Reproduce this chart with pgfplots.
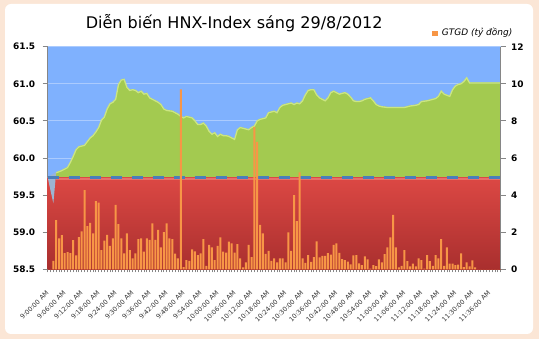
\documentclass[border=0pt]{standalone}
\usepackage{fontspec}
\setmainfont{DejaVu Sans}
\usepackage{pgfplots}
\usepackage{pgfplotstable}
\pgfplotsset{compat=1.18}
\definecolor{peach}{HTML}{FBE6D6}
\definecolor{plotblue}{HTML}{7FB1FE}
\definecolor{notchblue}{HTML}{9CB4D2}
\definecolor{gridblue}{HTML}{ABCBFE}
\definecolor{greenfill}{HTML}{A3CA50}
\definecolor{greenhi}{HTML}{CBE583}
\definecolor{redtop}{HTML}{DC4844}
\definecolor{redbot}{HTML}{A92F2E}
\definecolor{redhi}{HTML}{E8706A}
\definecolor{refblue}{HTML}{4A7EBB}
\definecolor{barorange}{HTML}{F79646}
\definecolor{axisgrey}{HTML}{868686}

\pgfplotstableread{
x y
0 59.74
1 59.56
2 59.39
3 59.81
5 59.84
6 59.86
7 59.88
8 59.95
9 60.03
10 60.12
11 60.16
12 60.17
13 60.18
14 60.23
15 60.28
16 60.31
17 60.36
18 60.42
19 60.52
20 60.56
21 60.67
22 60.74
23 60.76
24 60.80
25 61.00
26 61.06
27 61.07
28 60.96
29 60.92
30 60.93
31 60.92
32 60.89
33 60.91
34 60.87
35 60.88
36 60.82
37 60.80
38 60.78
39 60.76
40 60.73
41 60.67
42 60.65
44 60.64
45 60.62
46 60.60
47 60.57
48 60.55
49 60.57
50 60.56
51 60.55
52 60.51
53 60.46
54 60.46
55 60.48
56 60.44
57 60.37
58 60.33
59 60.35
60 60.30
61 60.33
62 60.31
63 60.31
64 60.30
65 60.28
66 60.26
67 60.39
68 60.42
69 60.41
70 60.40
71 60.39
72 60.42
73 60.44
74 60.51
75 60.53
76 60.54
77 60.55
78 60.62
79 60.63
80 60.64
81 60.62
82 60.69
83 60.72
84 60.73
85 60.74
86 60.75
87 60.73
88 60.75
89 60.74
90 60.78
91 60.86
92 60.92
93 60.93
94 60.93
95 60.86
96 60.82
97 60.80
98 60.78
99 60.82
100 60.89
101 60.91
102 60.89
103 60.87
104 60.88
105 60.89
106 60.87
107 60.83
108 60.78
109 60.77
110 60.77
111 60.78
112 60.80
113 60.81
114 60.82
115 60.78
116 60.73
117 60.71
118 60.70
120 60.69
126 60.69
128 60.71
130 60.72
131 60.73
132 60.77
134 60.78
136 60.80
137 60.81
138 60.84
139 60.91
140 60.87
142 60.84
143 60.93
144 60.98
145 61.00
146 61.01
147 61.04
148 61.09
149 61.02
160 61.02
}\indexdata

\pgfplotstableread{
x v
0 0
1 0
2 0.45
3 2.65
4 1.67
5 1.84
6 0.87
7 0.93
8 0.87
9 1.57
10 0.75
11 1.73
12 2.05
13 4.27
14 2.33
15 2.50
16 1.94
17 3.68
18 3.60
19 1.04
20 1.54
21 1.85
22 1.26
23 1.67
24 3.47
25 2.44
26 1.67
27 0.86
28 1.94
29 1.04
30 0.59
31 0.86
32 1.62
33 1.67
34 0.95
35 1.67
36 1.58
37 2.48
38 1.58
39 2.12
40 1.18
41 2.01
42 2.48
43 1.67
44 1.62
45 0.84
46 0.59
47 9.70
48 0.12
49 0.50
50 0.45
51 1.08
52 0.96
53 0.77
54 0.86
55 1.62
56 0.18
57 1.31
58 1.18
59 0.50
60 1.26
61 1.72
62 0.95
63 0.90
64 1.49
65 1.40
66 0.90
67 1.36
68 0.59
69 0.11
70 0.38
71 1.31
72 0.65
73 7.68
74 6.87
75 2.39
76 1.94
77 0.83
78 0.99
79 0.45
80 0.59
81 0.38
82 0.59
83 0.59
84 0.38
85 1.99
86 0.99
87 4.00
88 2.60
89 5.22
90 0.59
91 0.34
92 0.76
93 0.40
94 0.65
95 1.51
96 0.64
97 0.72
98 0.72
99 0.87
100 0.79
101 1.31
102 1.40
103 0.88
104 0.55
105 0.50
106 0.41
107 0.26
108 0.75
109 0.76
110 0.32
111 0.23
112 0.70
113 0.54
114 0.03
115 0.23
116 0.17
117 0.54
118 0.38
119 0.82
120 1.18
121 1.72
122 2.93
123 1.18
124 0.10
125 0.18
126 1.04
127 0.44
128 0.16
129 0.30
130 0.16
131 0.59
132 0.50
133 0.04
134 0.76
135 0.44
136 0.18
137 0.76
138 0.59
139 1.62
140 0.18
141 1.18
142 0.30
143 0.30
144 0.22
145 0.25
146 0.86
147 0.12
148 0.38
149 0.16
150 0.48
151 0.10
152 0
153 0
154 0
155 0
156 0
157 0
158 0
159 0
160 0
}\bardata

\begin{document}
\begin{tikzpicture}
\fill[peach] (0,0) rectangle (539bp,339bp);
\fill[white, rounded corners=6bp] (5bp,5bp) rectangle (533bp,335bp);

\begin{axis}[
  scale only axis, width=453bp, height=222.6bp,
  at={(47.7bp,69.7bp)}, anchor=south west,
  xmin=0, xmax=160, ymin=58.5, ymax=61.5,
  axis background/.style={fill=plotblue},
  axis x line*=bottom, axis y line*=left,
  axis line style={axisgrey, line width=0.8bp},
  tick style={axisgrey, line width=0.8bp},
  tick align=outside,
  major tick length=5bp, minor tick length=3bp,
  xtick={0,6,...,156},
  xticklabels={9:00:00 AM,9:06:00 AM,9:12:00 AM,9:18:00 AM,9:24:00 AM,9:30:00 AM,9:36:00 AM,9:42:00 AM,9:48:00 AM,9:54:00 AM,10:00:00 AM,10:06:00 AM,10:12:00 AM,10:18:00 AM,10:24:00 AM,10:30:00 AM,10:36:00 AM,10:42:00 AM,10:48:00 AM,10:54:00 AM,11:00:00 AM,11:06:00 AM,11:12:00 AM,11:18:00 AM,11:24:00 AM,11:30:00 AM,11:36:00 AM},
  minor xtick={0,1,...,160},
  major x tick style={draw=none},
  ytick={58.5,59,59.5,60,60.5,61,61.5},
  ymajorgrids, grid style={gridblue, line width=0.8bp},
  yticklabel style={font=\bfseries\fontsize{9}{10}\selectfont, text=black, xshift=-4bp},
  /pgf/number format/fixed, /pgf/number format/fixed zerofill,
  /pgf/number format/precision=1, /pgf/number format/assume math mode=true,
  xticklabel style={font=\fontsize{6.5}{7}\selectfont, yshift=-11bp, xshift=-2bp, rotate=45, anchor=north east, text=black!80},
]
% green: area under the index (only the part above the reference stays visible)
\addplot[fill=greenfill, draw=none] table[x=x,y=y]{\indexdata} \closedcycle;
% red: band up to the reference level
\addplot[top color=redtop, bottom color=redbot, draw=none] coordinates {(0,58.5) (0,59.74) (160,59.74) (160,58.5)} -- cycle;
% notch where the index was below the reference
\addplot[fill=notchblue, draw=none] coordinates {(0,59.74) (1,59.56) (2,59.39) (3,59.81)} -- cycle;
\addplot[redhi, line width=2.5bp] coordinates {(2.9,59.715) (160,59.715)};
\addplot[greenhi, line width=1.3bp, yshift=-0.7bp, restrict y to domain=59.75:62, unbounded coords=jump] table[x=x,y=y]{\indexdata};
\addplot[refblue, line width=2.5bp, dash pattern=on 11bp off 10bp] coordinates {(0,59.74) (160,59.74)};
\end{axis}

\begin{axis}[
  scale only axis, width=453bp, height=222.6bp,
  at={(47.7bp,69.7bp)}, anchor=south west,
  xmin=0, xmax=160, ymin=0, ymax=12,
  axis x line=none, axis y line*=right,
  axis line style={axisgrey, line width=0.8bp},
  tick style={axisgrey, line width=0.8bp},
  tick align=outside, major tick length=5bp,
  ytick={0,2,...,12},
  yticklabel style={font=\bfseries\fontsize{9}{10}\selectfont, text=black, xshift=2bp},
  /pgf/number format/assume math mode=true,
  ybar, bar width=2bp,
]
\addplot[fill=barorange, draw=none] table[x=x,y=v]{\bardata};
\end{axis}

\node[anchor=base, font=\fontsize{16.1}{18}\selectfont, inner sep=0] at (234.2bp,310.7bp) {Diễn biến HNX-Index sáng 29/8/2012};
\fill[barorange] (432bp,303.3bp) rectangle (437.5bp,308.3bp);
\node[anchor=base west, font=\itshape\fontsize{9}{10}\selectfont, inner sep=0] at (441.7bp,303.7bp) {GTGD (tỷ đồng)};

\pgfresetboundingbox
\path (0,0) rectangle (539bp,339bp);
\end{tikzpicture}
\end{document}
